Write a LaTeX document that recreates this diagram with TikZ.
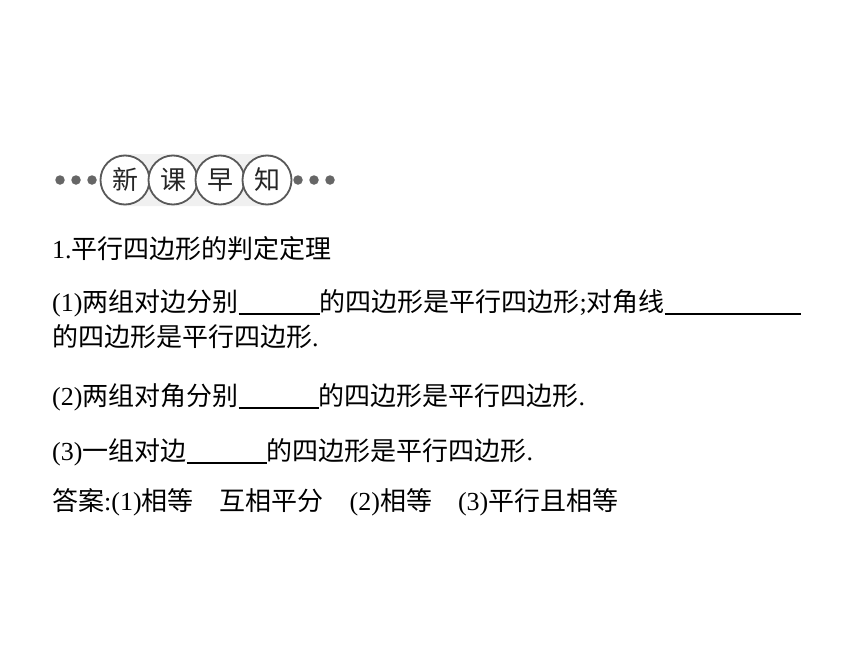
\documentclass[tikz,border=0pt]{standalone}
\usepackage{fontspec}
\setmainfont{Liberation Serif}
\newfontfamily\cjk{Noto Sans CJK SC}
\newcommand{\blank}[1]{\rule[-3.5pt]{#1}{1.3pt}}

\begin{document}
\begin{tikzpicture}[x=1pt,y=-1pt,
    badge/.style={circle,draw=black!65,line width=1.8pt,fill=white,minimum size=49pt,inner sep=0pt,font=\cjk\fontsize{26}{28}\selectfont,text=black!85},
    dot/.style={circle,fill=black!60,minimum size=9.5pt,inner sep=0pt},
    line/.style={anchor=base west,inner sep=0pt,font=\fontsize{26}{30}\selectfont}]
    \useasboundingbox (0,0) rectangle (860,645);

    % header
    \node[dot] (l1) at (60,180) {};
    \node[dot] (l2) at (76,180) {};
    \node[dot] (l3) at (92,180) {};
    \fill[black!6,rounded corners=22pt] (102,154) rectangle (290,206);
    \node[badge] (xin) at (125,180) {新};
    \node[badge] (ke) at (173,180) {课};
    \node[badge] (zao) at (220,180) {早};
    \node[badge] (zhi) at (267,180) {知};
    \node[dot] (r1) at (298,180) {};
    \node[dot] (r2) at (314,180) {};
    \node[dot] (r3) at (330,180) {};

    % text
    \node[line] (head) at (52,258) {1.{\cjk 平行四边形的判定定理}};
    \node[line] (q1a) at (52,311) {(1){\cjk 两组对边分别}\blank{81pt}{\cjk 的四边形是平行四边形};{\cjk 对角线}\blank{136pt}};
    \node[line] (q1b) at (52,346) {{\cjk 的四边形是平行四边形}.};
    \node[line] (q2) at (52,405) {(2){\cjk 两组对角分别}\blank{80pt}{\cjk 的四边形是平行四边形}.};
    \node[line] (q3) at (52,460) {(3){\cjk 一组对边}\blank{80pt}{\cjk 的四边形是平行四边形}.};
    \node[line] (ans) at (52,510) {{\cjk 答案}:(1){\cjk 相等　互相平分　}(2){\cjk 相等　}(3){\cjk 平行且相等}};
\end{tikzpicture}
\end{document}
